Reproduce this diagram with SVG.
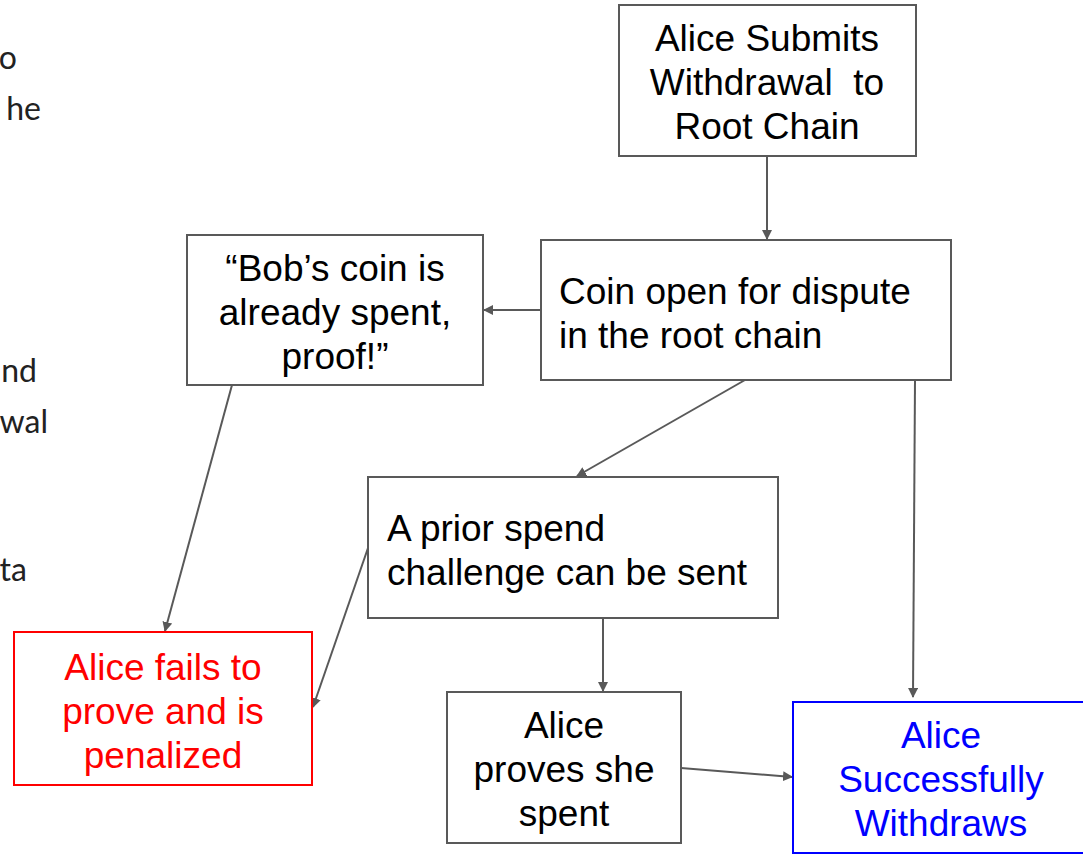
<svg xmlns="http://www.w3.org/2000/svg" width="1083" height="854" viewBox="0 0 1083 854">
  <style>
    .box { fill: #ffffff; stroke: #595959; stroke-width: 2; }
    .red { stroke: #ff0000; }
    .blue { stroke: #0000ff; }
    .t { font-family: "Liberation Sans", Arial, sans-serif; font-size: 37px; fill: #000000; }
    .c { text-anchor: middle; }
    .tr { fill: #ff0000; }
    .tb { fill: #0000ff; }
    .side { font-family: "Lato", "Open Sans", sans-serif; font-size: 32px; fill: #222222; text-anchor: end; }
    .edge { fill: none; stroke: #595959; stroke-width: 2; marker-end: url(#arrow); }
  </style>
  <defs>
    <marker id="arrow" viewBox="0 0 10 10" refX="9" refY="5" markerWidth="5" markerHeight="5" orient="auto" markerUnits="strokeWidth">
      <path d="M0,0 L10,5 L0,10 z" fill="#595959"/>
    </marker>
  </defs>

  <!-- clipped text at the left edge -->
  <g id="side-text">
    <text class="side" x="17" y="69">o</text>
    <text class="side" x="41" y="120">he</text>
    <text class="side" x="37" y="382">nd</text>
    <text class="side" x="48" y="433">wal</text>
    <text class="side" x="27" y="581">ta</text>
  </g>

  <g id="connectors">
    <line class="edge" x1="767" y1="156" x2="767" y2="239"/>
    <line class="edge" x1="541" y1="310" x2="484" y2="310"/>
    <line class="edge" x1="745" y1="380" x2="577" y2="476"/>
    <line class="edge" x1="915" y1="380" x2="913" y2="697"/>
    <line class="edge" x1="232" y1="385" x2="165" y2="631"/>
    <line class="edge" x1="368" y1="548" x2="313" y2="707"/>
    <line class="edge" x1="603" y1="618" x2="603" y2="691"/>
    <line class="edge" x1="681" y1="768" x2="792" y2="777"/>
  </g>

  <g id="submit">
    <rect class="box" x="619" y="5" width="297" height="151"/>
    <text class="t c" x="767" y="51">Alice Submits</text>
    <text class="t c" x="767" y="95" xml:space="preserve">Withdrawal  to</text>
    <text class="t c" x="767" y="139">Root Chain</text>
  </g>

  <g id="dispute">
    <rect class="box" x="541" y="240" width="410" height="140"/>
    <text class="t" x="559" y="304">Coin open for dispute</text>
    <text class="t" x="559" y="348">in the root chain</text>
  </g>

  <g id="proof">
    <rect class="box" x="187" y="235" width="296" height="150"/>
    <text class="t c" x="335" y="281">“Bob’s coin is</text>
    <text class="t c" x="335" y="325">already spent,</text>
    <text class="t c" x="335" y="369">proof!”</text>
  </g>

  <g id="challenge">
    <rect class="box" x="368" y="477" width="410" height="141"/>
    <text class="t" x="387" y="541">A prior spend</text>
    <text class="t" x="387" y="585">challenge can be sent</text>
  </g>

  <g id="penalized">
    <rect class="box red" x="14" y="632" width="298" height="153"/>
    <text class="t c tr" x="163" y="680">Alice fails to</text>
    <text class="t c tr" x="163" y="724">prove and is</text>
    <text class="t c tr" x="163" y="768">penalized</text>
  </g>

  <g id="proves">
    <rect class="box" x="447" y="692" width="234" height="151"/>
    <text class="t c" x="564" y="738">Alice</text>
    <text class="t c" x="564" y="782">proves she</text>
    <text class="t c" x="564" y="826">spent</text>
  </g>

  <g id="withdraws">
    <rect class="box blue" x="793" y="702" width="298" height="151"/>
    <text class="t c tb" x="941" y="748">Alice</text>
    <text class="t c tb" x="941" y="792">Successfully</text>
    <text class="t c tb" x="941" y="836">Withdraws</text>
  </g>
</svg>
